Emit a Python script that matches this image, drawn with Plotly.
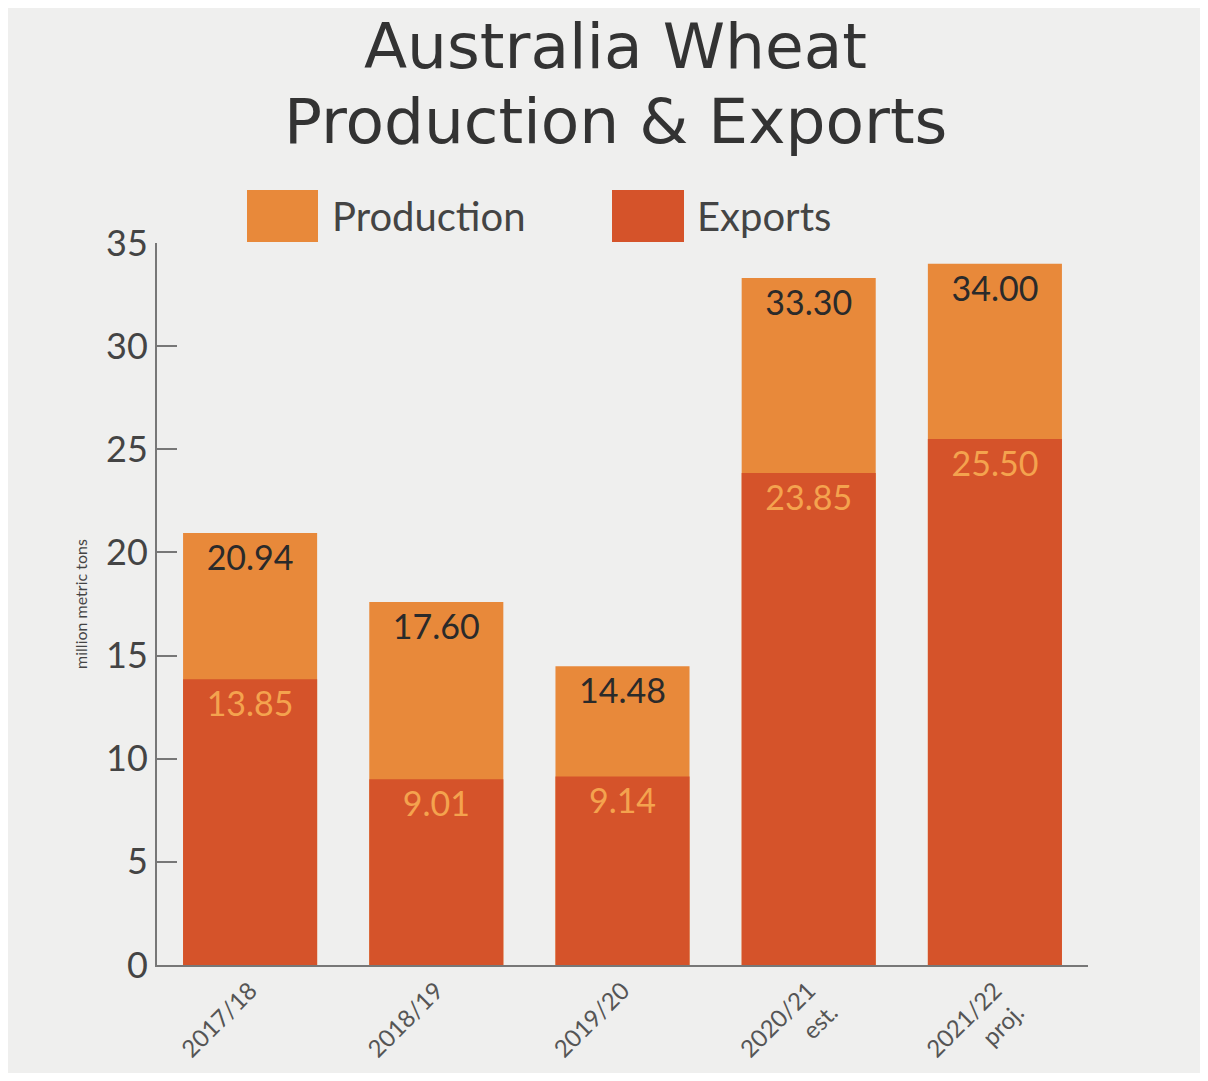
import plotly.graph_objects as go

categories = ["2017/18", "2018/19", "2019/20", "2020/21<br>est.", "2021/22<br>proj."]
production = [20.94, 17.60, 14.48, 33.30, 34.00]
exports = [13.85, 9.01, 9.14, 23.85, 25.50]
y_ticks = [0, 5, 10, 15, 20, 25, 30, 35]

PROD_COLOR = "#E8893A"
EXP_COLOR = "#D5532A"
BG = "#EFEFEE"
FONT = "Lato"
TITLE_FONT = "DejaVu Sans"

# plot area in page pixels (page has an 8px body offset)
PL, PR, PT, PB = 157, 1088, 243, 965


def px(x):
    return (x - PL) / (PR - PL)


def py(y):
    return (PB - y) / (PB - PT)


fig = go.Figure()
fig.add_trace(go.Bar(
    x=categories, y=production, name="Production",
    marker=dict(color=PROD_COLOR, line=dict(width=0)),
    text=[f"{v:.2f}" for v in production],
    textposition="inside", insidetextanchor="end",
    textfont=dict(family=FONT, size=34, color="#2a2a2a"),
    textangle=0, width=0.72, showlegend=False,
))
fig.add_trace(go.Bar(
    x=categories, y=exports, name="Exports",
    marker=dict(color=EXP_COLOR, line=dict(width=0)),
    text=[f"{v:.2f}" for v in exports],
    textposition="inside", insidetextanchor="end",
    textfont=dict(family=FONT, size=34, color="#F4A34E"),
    textangle=0, width=0.72, showlegend=False,
))

W, H = 1192, 1065
fig.update_layout(
    width=W, height=H, autosize=False,
    barmode="overlay",
    paper_bgcolor=BG, plot_bgcolor=BG,
    margin=dict(l=PL - 8, r=W - (PR - 8), t=PT - 8, b=H - (PB - 8), autoexpand=False),
    font=dict(family=FONT, color="#333333"),
    xaxis=dict(
        range=[-0.5, 4.5], tickangle=-45,
        tickfont=dict(family=FONT, size=24, color="#555555"),
        showline=True, linecolor="#777777", linewidth=2,
        ticks="", showgrid=False,
    ),
    yaxis=dict(
        range=[0, 35], tickvals=y_ticks,
        tickfont=dict(family=FONT, size=36, color="#444444"),
        showline=True, linecolor="#777777", linewidth=2,
        ticks="inside", ticklen=20, tickcolor="#777777", tickwidth=2,
        showgrid=False, zeroline=False,
        title=dict(text="million metric tons", font=dict(family=FONT, size=16, color="#444444"), standoff=14),
    ),
    uniformtext=dict(mode="show", minsize=10),
)

# title lines
fig.add_annotation(xref="paper", yref="paper", x=px(615), y=py(47),
                   text="Australia Wheat", showarrow=False, xanchor="center", yanchor="middle",
                   font=dict(family=TITLE_FONT, size=63, color="#333333"))
fig.add_annotation(xref="paper", yref="paper", x=px(615), y=py(122),
                   text="Production & Exports", showarrow=False, xanchor="center", yanchor="middle",
                   font=dict(family=TITLE_FONT, size=63, color="#333333"))

# legend swatches and labels
fig.add_shape(type="rect", xref="paper", yref="paper",
              x0=px(247), x1=px(318), y0=py(242), y1=py(190),
              fillcolor=PROD_COLOR, line=dict(width=0))
fig.add_shape(type="rect", xref="paper", yref="paper",
              x0=px(612), x1=px(684), y0=py(242), y1=py(190),
              fillcolor=EXP_COLOR, line=dict(width=0))
fig.add_annotation(xref="paper", yref="paper", x=px(330), y=py(216),
                   text="Production", showarrow=False, xanchor="left", yanchor="middle",
                   font=dict(family=FONT, size=40, color="#444444"))
fig.add_annotation(xref="paper", yref="paper", x=px(695), y=py(216),
                   text="Exports", showarrow=False, xanchor="left", yanchor="middle",
                   font=dict(family=FONT, size=40, color="#444444"))

fig.write_html("out.html")
